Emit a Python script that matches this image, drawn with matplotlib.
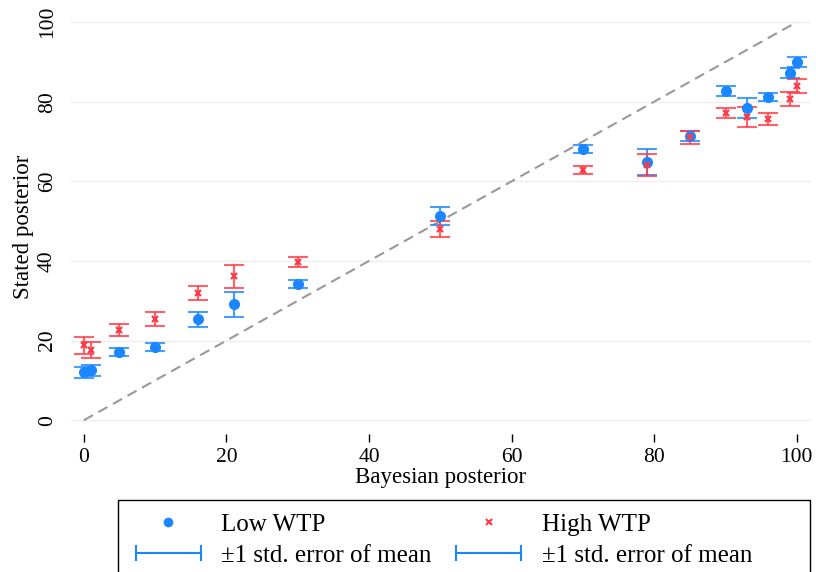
import matplotlib
matplotlib.use("Agg")
import matplotlib.pyplot as plt
from matplotlib.lines import Line2D
from matplotlib.patches import Rectangle
from matplotlib.legend_handler import HandlerLine2D

plt.rcParams['font.family'] = ['Liberation Serif', 'DejaVu Serif']

# bayesian posterior (x), stated posterior means and std errors
x_low = [0, 1, 5, 10, 16, 21, 30, 50, 70, 79, 85, 90, 93, 96, 99, 100]
y_low = [12.0, 12.5, 17.1, 18.3, 25.4, 29.1, 34.2, 51.3, 68.1, 64.8, 71.4, 82.7, 78.4, 81.2, 87.2, 90.0]
se_low = [1.3, 1.3, 1.1, 1.0, 1.9, 3.1, 1.1, 2.2, 1.0, 3.3, 1.3, 1.2, 2.5, 1.0, 1.2, 1.2]

x_high = [0, 1, 5, 10, 16, 21, 30, 50, 70, 79, 85, 90, 93, 96, 99, 100]
y_high = [18.8, 17.6, 22.6, 25.4, 31.9, 36.2, 39.7, 48.0, 62.8, 64.1, 71.0, 77.1, 76.1, 75.6, 80.7, 84.0]
se_high = [2.2, 2.1, 1.5, 1.8, 1.7, 2.9, 1.2, 2.0, 1.0, 2.8, 1.6, 1.2, 2.5, 1.5, 1.8, 1.8]

ticks = [0, 20, 40, 60, 80, 100]

blue = '#1a86ff'
red = '#ff3a45'

fig = plt.figure(figsize=(8.16, 5.72), dpi=100)
ax = fig.add_axes([0.087, 0.241, 0.907, 0.724])

for t in ticks:
    ax.axhline(t, color='#eeeeee', lw=1, zorder=0)
ax.plot([0, 100], [0, 100], color='#999999', ls=(0, (5, 3)), lw=1.5, zorder=1)

ax.errorbar(x_low, y_low, yerr=se_low, fmt='none', ecolor=blue, alpha=0.8,
            elinewidth=1.5, capsize=7, capthick=1.5, zorder=2)
ax.errorbar(x_high, y_high, yerr=se_high, fmt='none', ecolor=red, alpha=0.8,
            elinewidth=1.5, capsize=7, capthick=1.5, zorder=2)
ax.plot(x_low, y_low, 'o', color=blue, ms=8, mec='none', zorder=3)
ax.plot(x_high, y_high, 'x', color=red, ms=5, mew=1.6, zorder=4)

ax.set_xlim(-1.8, 102)
ax.set_ylim(-3.5, 100.5)
ax.set_xticks(ticks)
ax.set_yticks(ticks)
for s in ax.spines.values():
    s.set_visible(False)
ax.tick_params(axis='x', length=6, width=1, labelsize=15.5, pad=4)
ax.tick_params(axis='y', length=0, labelsize=15.5, pad=10)
for lab in ax.get_yticklabels():
    lab.set_rotation(90)
    lab.set_va('center')
ax.set_xlabel('Bayesian posterior', fontsize=16.5, labelpad=0)
ax.set_ylabel('Stated posterior', fontsize=16.5, labelpad=3)

h_low = Line2D([], [], ls='none', marker='o', color=blue, ms=7, mec='none')
h_high = Line2D([], [], ls='none', marker='x', color=red, ms=5, mew=1.5)
h_err1 = Line2D([], [], color=blue, lw=1.5, marker='|', ms=11, mew=1.5)
h_err2 = Line2D([], [], color=blue, lw=1.5, marker='|', ms=11, mew=1.5)
leg = fig.legend([h_low, h_err1, h_high, h_err2],
                 ['Low WTP', '±1 std. error of mean', 'High WTP', '±1 std. error of mean'],
                 ncol=2, loc='upper left', bbox_to_anchor=(0.157, 0.102),
                 fontsize=18, frameon=False, borderpad=0, borderaxespad=0,
                 handlelength=3.2, handletextpad=0.52, columnspacing=0.7,
                 labelspacing=0.32,
                 handler_map={h_err1: HandlerLine2D(numpoints=2),
                              h_err2: HandlerLine2D(numpoints=2)})
fig.add_artist(Rectangle((0.1446, -0.05), 0.848, 0.1759, transform=fig.transFigure,
                         fill=False, edgecolor='black', lw=1.0))

fig.savefig('out.png', dpi=100)
